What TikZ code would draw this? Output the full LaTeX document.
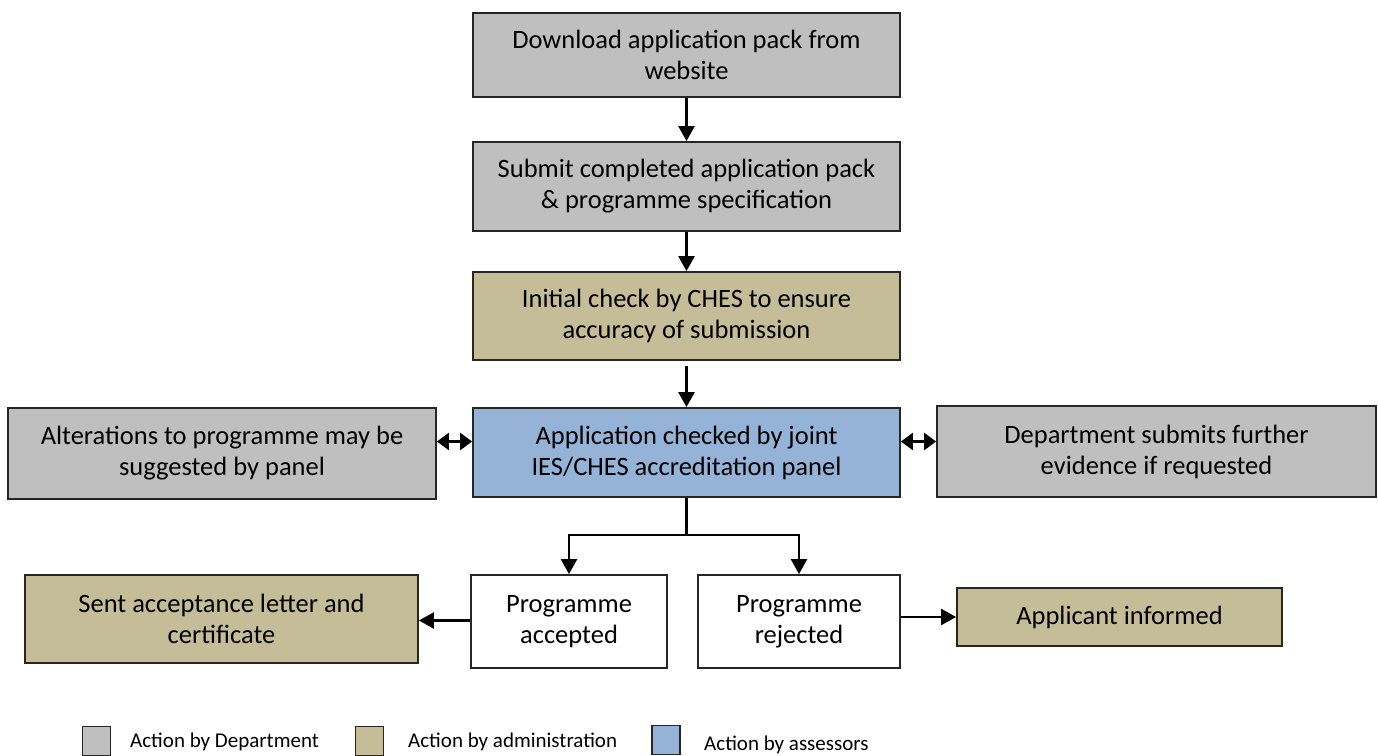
\documentclass[tikz,border=0pt]{standalone}
\usepackage{fontspec}
\setmainfont{Carlito}
\usetikzlibrary{arrows.meta}
\definecolor{dept}{HTML}{BFBFBF}
\definecolor{admin}{HTML}{C4BD97}
\definecolor{assess}{HTML}{95B3D7}
\begin{document}
\begin{tikzpicture}[x=1pt,y=-1pt,
  box/.style={draw=black!85, line width=1.8pt, align=center, inner sep=0pt, font=\fontsize{26.5}{31}\selectfont},
  arr/.style={line width=2.4pt, -{Triangle[length=15pt,width=16pt]}},
  darr/.style={line width=2.4pt, {Triangle[length=12pt,width=17pt]}-{Triangle[length=12pt,width=17pt]}},
  legbox/.style={draw=black!85, line width=1.8pt, minimum width=28pt, minimum height=29pt, inner sep=0pt},
  legtext/.style={anchor=west, inner sep=0pt, font=\fontsize{21}{25}\selectfont}]
\useasboundingbox (0,0) rectangle (1378,755);
\node[box, fill=dept, minimum width=427pt, minimum height=84pt] (b1) at (686.5,55) {Download application pack from\\website};
\node[box, fill=dept, minimum width=427pt, minimum height=89pt] (b2) at (686.5,186.5) {Submit completed application pack\\\& programme specification};
\node[box, fill=admin, minimum width=427pt, minimum height=88pt] (b3) at (686.5,316) {Initial check by CHES to ensure\\accuracy of submission};
\node[box, fill=assess, minimum width=427pt, minimum height=89pt] (b4) at (686.5,452.5) {Application checked by joint\\IES/CHES accreditation panel};
\node[box, fill=dept, minimum width=428pt, minimum height=91pt] (alt) at (222,453.5) {Alterations to programme may be\\suggested by panel};
\node[box, fill=dept, minimum width=439pt, minimum height=91pt] (dep) at (1156.5,451.5) {Department submits further\\evidence if requested};
\node[box, fill=white, minimum width=196pt, minimum height=93pt] (acc) at (569,621.5) {Programme\\accepted};
\node[box, fill=white, minimum width=202pt, minimum height=93pt] (rej) at (799,621.5) {Programme\\rejected};
\node[box, fill=admin, minimum width=393pt, minimum height=88pt] (sent) at (221.5,619) {Sent acceptance letter and\\certificate};
\node[box, fill=admin, minimum width=325pt, minimum height=58pt] (app) at (1119.5,617) {Applicant informed};

\draw[arr] (b1) -- (b2);
\draw[arr] (b2) -- (b3);
\draw[arr, shorten <=5pt] (b3) -- (b4);
\draw[line width=2.4pt] (b4.south) -- ++(0,37) coordinate (split);
\draw[arr] (split) -| (acc.north);
\draw[arr] (split) -| (rej.north);
\draw[darr] ([yshift=11pt]b4.west) -- ([yshift=11pt]b4.west -| alt.east);
\draw[darr] ([yshift=11pt]b4.east) -- ([yshift=11pt]b4.east -| dep.west);
\draw[arr] ([yshift=1pt]acc.west) -- ([yshift=1pt]acc.west -| sent.east);
\draw[arr] (rej.east |- app.west) -- (app.west);

\node[legbox, fill=dept] (l1) at (96.5,741) {};
\node[legtext] (t1) at (130,742) {Action by Department};
\node[legbox, fill=admin] (l2) at (369.5,741) {};
\node[legtext] (t2) at (408,742) {Action by administration};
\node[legbox, fill=assess] (l3) at (666,740) {};
\node[legtext] (t3) at (704,745) {Action by assessors};
\end{tikzpicture}
\end{document}
